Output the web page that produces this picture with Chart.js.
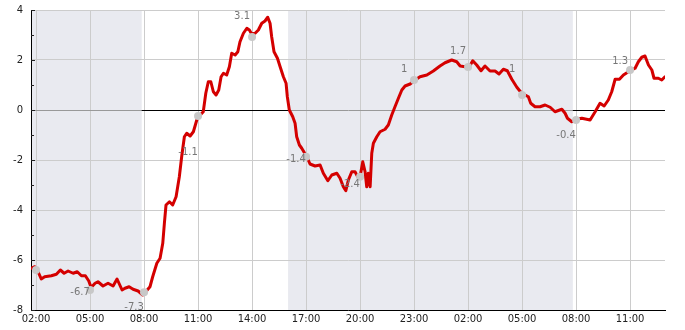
<!DOCTYPE html>
<html>
<head>
<meta charset="utf-8">
<script src="https://cdn.jsdelivr.net/npm/chart.js@4"></script>
<style>
  body { margin: 0; background: #fff; }
  #wrap { width: 685px; height: 330px; }
</style>
</head>
<body>
<div id="wrap"><canvas id="chart"></canvas></div>
<script>
// Hours counted from midnight of the first day (26 = 02:00 next day)
const seriesHours = [
  1.72, 1.93, 2.07, 2.29, 2.48, 2.85, 3.13, 3.35, 3.56, 3.78, 4.06, 4.29, 4.52, 4.74, 4.93,
  5.06, 5.28, 5.44, 5.72, 6.0, 6.28, 6.5, 6.78, 6.94, 7.17, 7.39, 7.67, 7.93, 8.06, 8.33,
  8.48, 8.71, 8.89, 9.04, 9.13, 9.22, 9.41, 9.59, 9.78, 9.96, 10.09, 10.24, 10.37, 10.56, 10.74,
  10.93, 11.07, 11.29, 11.43, 11.57, 11.71, 11.85, 12.0, 12.15, 12.28, 12.41, 12.59, 12.74, 12.87, 13.06,
  13.21, 13.33, 13.52, 13.71, 13.85, 13.98, 14.17, 14.35, 14.54, 14.72, 14.87, 15.0, 15.09, 15.22, 15.41,
  15.56, 15.74, 15.89, 15.96, 16.07, 16.26, 16.39, 16.48, 16.63, 16.76, 17.04, 17.22, 17.5, 17.78, 17.96,
  18.21, 18.43, 18.71, 18.89, 19.07, 19.21, 19.35, 19.54, 19.72, 19.87, 20.0, 20.15, 20.28, 20.37, 20.46,
  20.56, 20.65, 20.74, 20.93, 21.11, 21.39, 21.57, 21.76, 21.94, 22.13, 22.32, 22.5, 22.78, 23.06, 23.33,
  23.71, 24.07, 24.44, 24.72, 25.09, 25.37, 25.56, 25.83, 26.07, 26.26, 26.48, 26.72, 26.94, 27.22, 27.5,
  27.72, 27.96, 28.18, 28.43, 28.71, 28.98, 29.17, 29.35, 29.48, 29.72, 30.0, 30.28, 30.56, 30.83, 31.21,
  31.39, 31.52, 31.76, 32.04, 32.32, 32.78, 33.06, 33.33, 33.56, 33.79, 33.98, 34.17, 34.41, 34.63, 34.91,
  35.09, 35.28, 35.46, 35.65, 35.83, 36.02, 36.21, 36.33, 36.57, 36.76, 36.94
];
const seriesValues = [
  -6.33, -6.27, -6.4, -6.76, -6.67, -6.63, -6.57, -6.4, -6.53, -6.44, -6.53, -6.47, -6.63, -6.63, -6.84,
  -7.1, -6.93, -6.87, -7.04, -6.93, -7.04, -6.76, -7.2, -7.13, -7.07, -7.17, -7.24, -7.4, -7.3, -7.07,
  -6.67, -6.13, -5.93, -5.33, -4.53, -3.8, -3.67, -3.8, -3.47, -2.67, -1.87, -1.07, -0.93, -1.04, -0.87,
  -0.4, -0.24, -0.07, 0.67, 1.13, 1.13, 0.73, 0.6, 0.8, 1.33, 1.47, 1.4, 1.73, 2.27, 2.2,
  2.33, 2.73, 3.07, 3.27, 3.2, 3.04, 3.07, 3.2, 3.47, 3.56, 3.71, 3.47, 2.93, 2.33, 2.07,
  1.73, 1.33, 1.07, 0.53, 0.0, -0.27, -0.53, -1.07, -1.4, -1.53, -1.87, -2.16, -2.24, -2.2, -2.53,
  -2.83, -2.6, -2.53, -2.73, -3.07, -3.23, -2.8, -2.47, -2.47, -2.67, -2.67, -2.07, -2.47, -3.07, -2.53,
  -3.07, -1.73, -1.33, -1.07, -0.87, -0.77, -0.6, -0.2, 0.13, 0.47, 0.8, 0.96, 1.04, 1.2, 1.33,
  1.4, 1.56, 1.76, 1.89, 2.0, 1.93, 1.76, 1.73, 1.73, 1.97, 1.8, 1.57, 1.76, 1.56, 1.56,
  1.44, 1.63, 1.57, 1.23, 0.91, 0.67, 0.6, 0.53, 0.27, 0.13, 0.13, 0.2, 0.11, -0.07, 0.03,
  -0.13, -0.33, -0.47, -0.37, -0.33, -0.4, -0.07, 0.27, 0.16, 0.4, 0.73, 1.23, 1.23, 1.4, 1.53,
  1.6, 1.67, 1.93, 2.11, 2.16, 1.8, 1.6, 1.27, 1.27, 1.2, 1.33
];

// Grey marker points every three hours and their labels
const markerHours = [2, 5, 8, 11, 14, 17, 20, 23, 26, 29, 32, 35];
const markerValues = [-6.4, -7.2, -7.29, -0.24, 2.92, -1.87, -2.67, 1.2, 1.72, 0.6, -0.4, 1.6];
const markerLabels = [null, '-6.7', '-7.3', '-1.1', '3.1', '-1.4', '-2.4', '1', '1.7', '1', '-0.4', '1.3'];

const xTickHours = [2, 5, 8, 11, 14, 17, 20, 23, 26, 29, 32, 35];
const xTickLabels = ['02:00', '05:00', '08:00', '11:00', '14:00', '17:00', '20:00', '23:00', '02:00', '05:00', '08:00', '11:00'];

// Shaded (night) periods
const nightStarts = [1.72, 16.0];
const nightEnds = [7.87, 31.82];

// Shading, black zero line in daylight, minor ticks, point labels
const backdrop = {
  id: 'backdrop',
  beforeDraw(chart) {
    const { ctx, chartArea, scales: { x } } = chart;
    ctx.save();
    ctx.fillStyle = '#e9eaf0';
    nightStarts.forEach((s, i) => {
      const x0 = x.getPixelForValue(s);
      const x1 = x.getPixelForValue(nightEnds[i]);
      ctx.fillRect(x0, chartArea.top, x1 - x0, chartArea.bottom - chartArea.top);
    });
    ctx.restore();
  },
  beforeDatasetsDraw(chart) {
    const { ctx, chartArea, scales: { x, y } } = chart;
    ctx.save();
    ctx.strokeStyle = '#000';
    ctx.lineWidth = 1;
    const y0 = Math.round(y.getPixelForValue(0)) + 0.5;
    let from = x.min;
    nightStarts.forEach((s, i) => {
      if (s > from) {
        ctx.beginPath();
        ctx.moveTo(x.getPixelForValue(from), y0);
        ctx.lineTo(x.getPixelForValue(s), y0);
        ctx.stroke();
      }
      from = nightEnds[i];
    });
    ctx.beginPath();
    ctx.moveTo(x.getPixelForValue(from), y0);
    ctx.lineTo(chartArea.right, y0);
    ctx.stroke();

    // small inward ticks on the y axis
    ctx.strokeStyle = '#222';
    for (let v = y.min; v <= y.max; v++) {
      const py = Math.round(y.getPixelForValue(v)) + 0.5;
      ctx.beginPath();
      ctx.moveTo(chartArea.left, py);
      ctx.lineTo(chartArea.left + (v % 2 === 0 ? 4 : 3), py);
      ctx.stroke();
    }
    ctx.restore();
  },
  afterDatasetsDraw(chart, args, opts) {
    const { ctx } = chart;
    const meta = chart.getDatasetMeta(0);
    ctx.save();
    ctx.fillStyle = '#777';
    ctx.font = '10px "DejaVu Sans"';
    ctx.textAlign = 'center';
    ctx.textBaseline = 'middle';
    meta.data.forEach((pt, i) => {
      if (!markerLabels[i]) return;
      ctx.fillText(markerLabels[i], pt.x - 10, pt.y + opts.labelDy[i]);
    });
    ctx.restore();
  }
};

Chart.defaults.font.family = '"DejaVu Sans", sans-serif';
Chart.defaults.font.size = 10;
Chart.defaults.color = '#222';

new Chart(document.getElementById('chart'), {
  type: 'line',
  data: {
    datasets: [{
      label: 'markers',
      data: markerHours.map((h, i) => ({ x: h, y: markerValues[i] })),
      showLine: false,
      pointRadius: 4,
      pointBackgroundColor: '#c8c8c8',
      pointBorderWidth: 0
    }, {
      label: 'series',
      data: seriesHours.map((h, i) => ({ x: h, y: seriesValues[i] })),
      borderColor: '#d40000',
      borderWidth: 3,
      borderJoinStyle: 'round',
      borderCapStyle: 'round',
      pointRadius: 0,
      tension: 0
    }]
  },
  options: {
    responsive: true,
    maintainAspectRatio: false,
    animation: false,
    events: [],
    layout: { padding: { top: 10, right: 20, left: 0, bottom: 0 } },
    plugins: {
      legend: { display: false },
      tooltip: { enabled: false },
      backdrop: { labelDy: [0, 2, 15, 36, -21, 3, 8, -11, -16, -26, 15, -9] }
    },
    scales: {
      x: {
        type: 'linear',
        min: 1.72,
        max: 36.94,
        afterBuildTicks: axis => { axis.ticks = xTickHours.map(v => ({ value: v })); },
        afterFit: axis => { axis.height = 20; axis.paddingLeft = 0; axis.paddingRight = 0; },
        ticks: {
          autoSkip: false,
          maxRotation: 0,
          padding: 3,
          callback: (value, index) => xTickLabels[index]
        },
        grid: { color: '#cccccc', drawTicks: false },
        border: { color: '#000' }
      },
      y: {
        min: -8,
        max: 4,
        afterFit: axis => { axis.width = 31; axis.paddingTop = 0; axis.paddingBottom = 0; },
        ticks: {
          stepSize: 1,
          padding: 8,
          callback: v => (v % 2 === 0 ? String(v) : '')
        },
        grid: {
          drawTicks: false,
          color: ctx => {
            const v = ctx.tick.value;
            if (v % 2 !== 0) return 'rgba(0,0,0,0)';
            return v === 0 ? '#999999' : '#cccccc';
          }
        },
        border: { color: '#000' }
      }
    }
  },
  plugins: [backdrop]
});
</script>
</body>
</html>
